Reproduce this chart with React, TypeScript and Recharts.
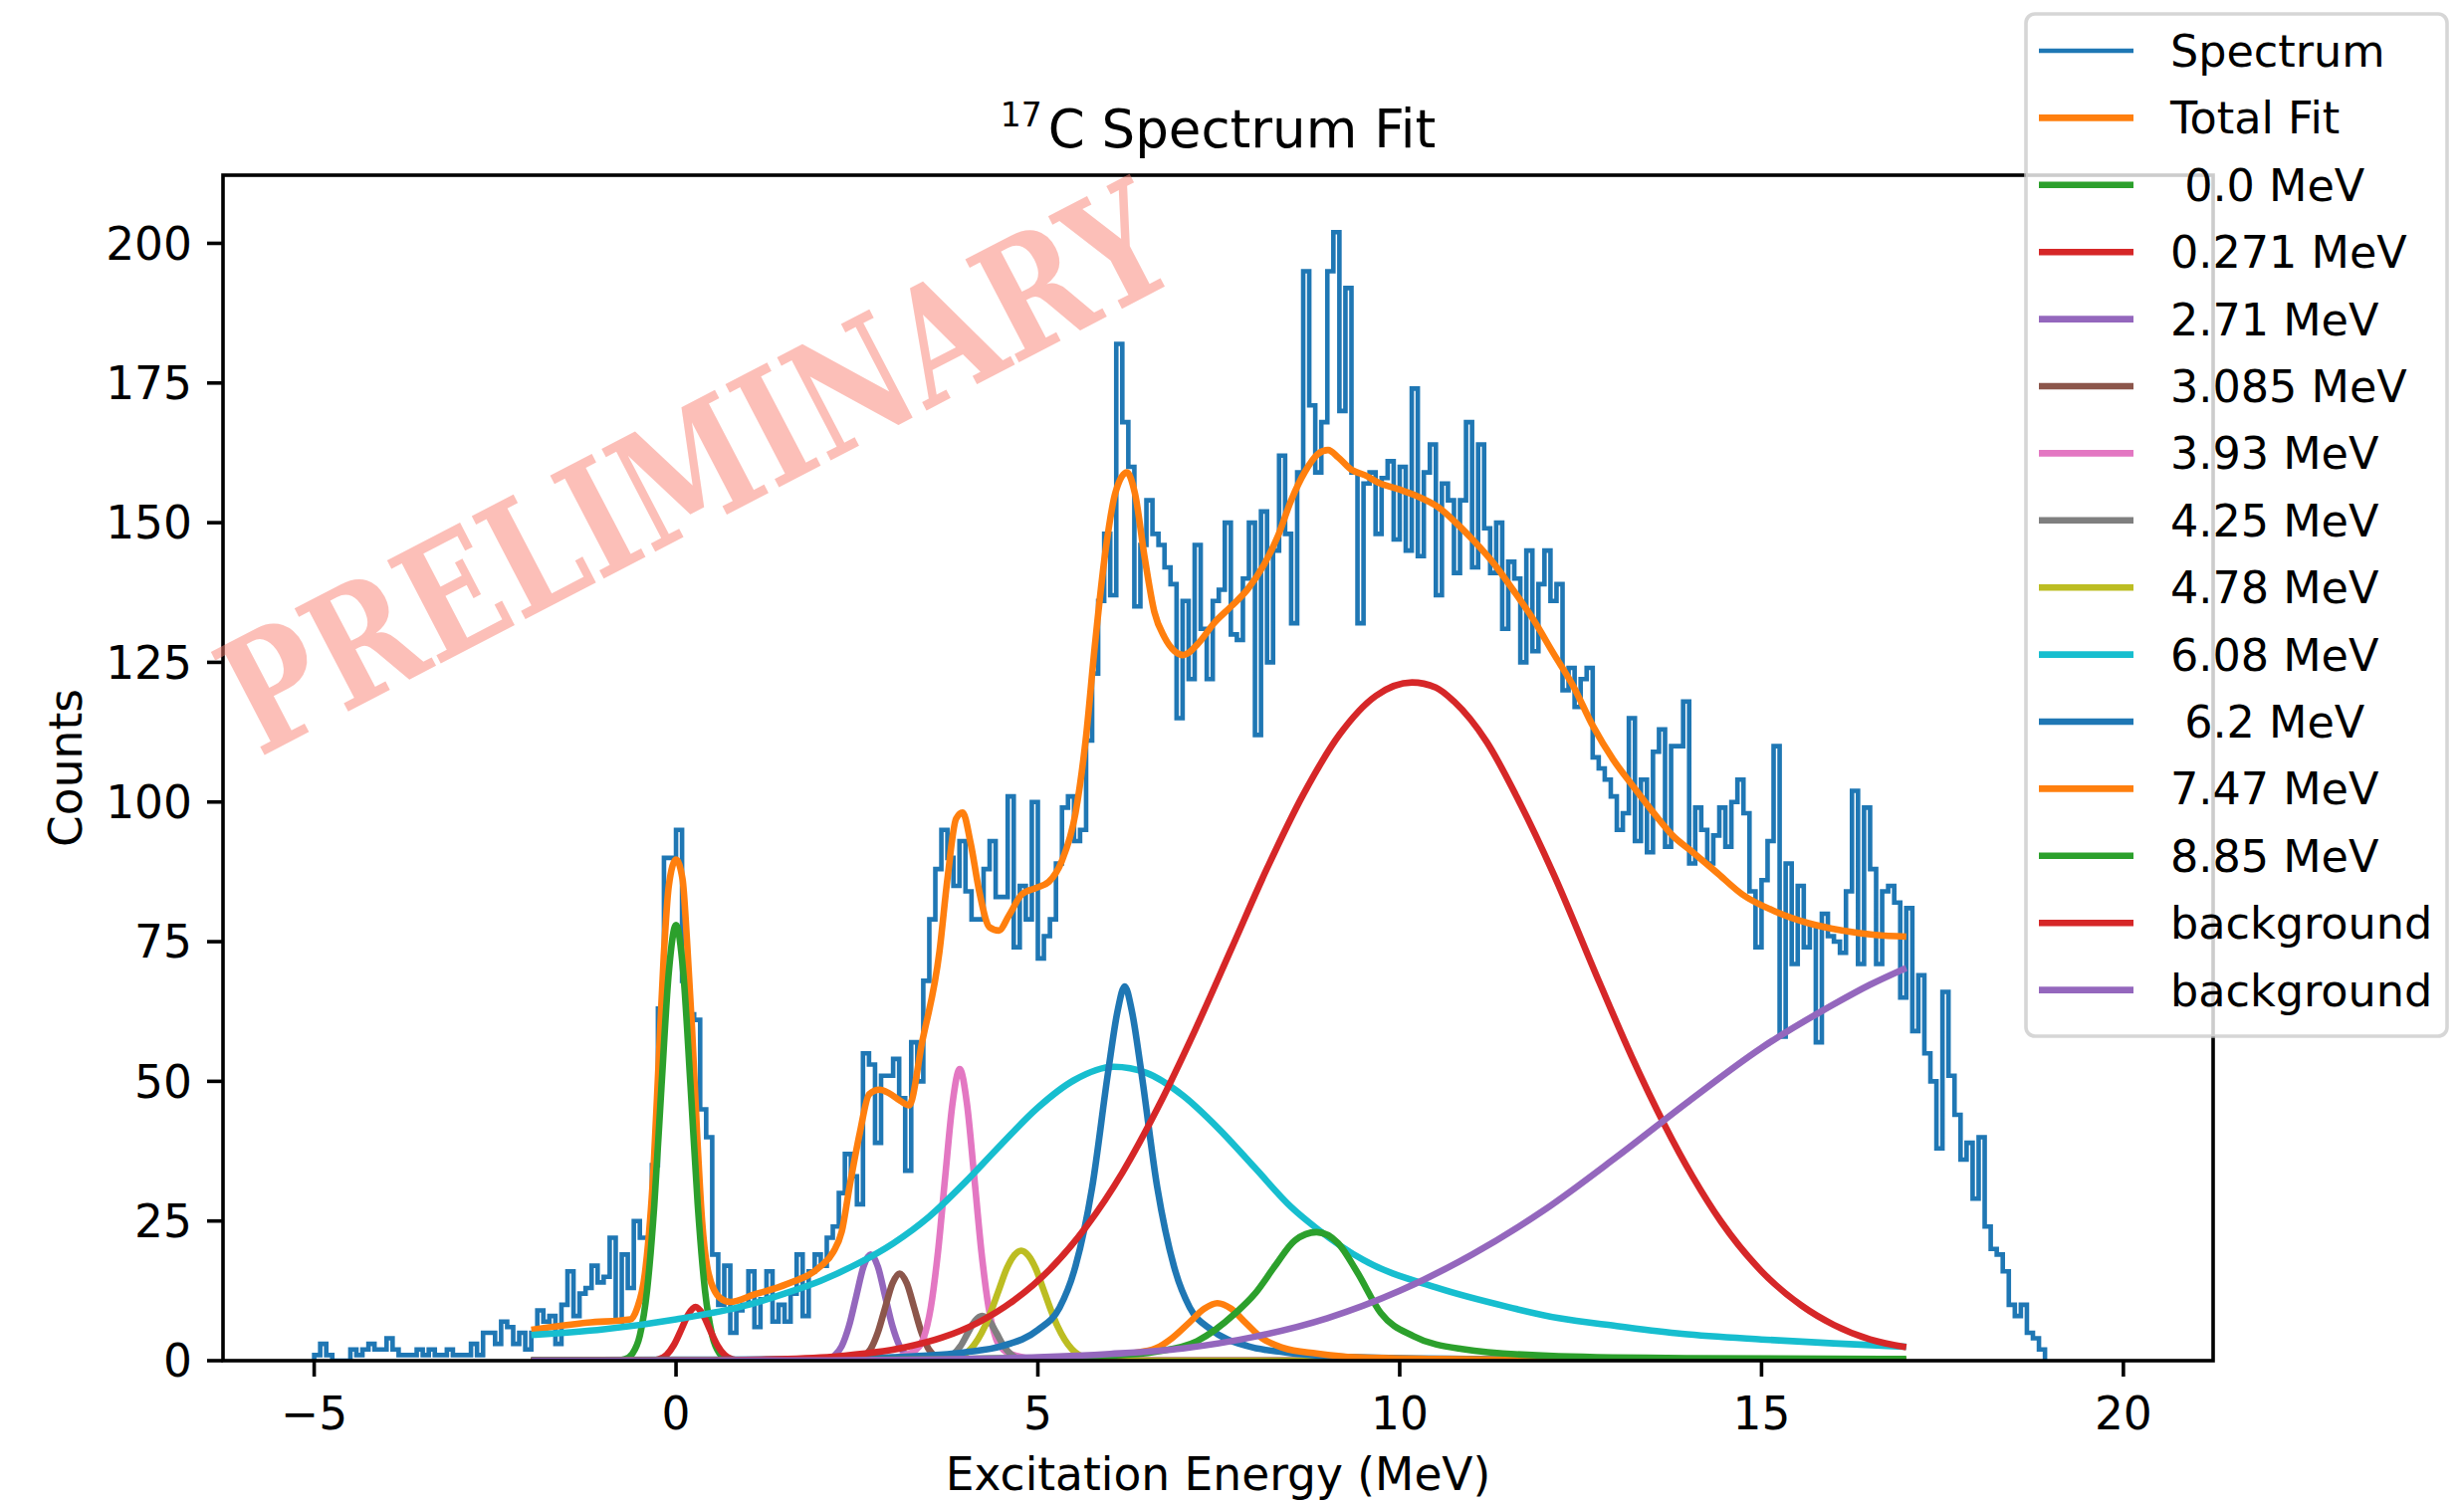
import React from 'react';
import { ComposedChart, Line, XAxis, YAxis } from 'recharts';

const W = 2475;
const H = 1510;
const PLOT = { left: 224, top: 176, right: 2223, bottom: 1367 };
const X_DOMAIN: [number, number] = [-6.26, 21.24];
const Y_DOMAIN: [number, number] = [0, 212.2];
const X_TICKS = [-5, 0, 5, 10, 15, 20];
const Y_TICKS = [0, 25, 50, 75, 100, 125, 150, 175, 200];

// histogram: bins start at -5 MeV, width 1/12 MeV
const HIST_START = -5;
const HIST_BIN = 1 / 12;
const spectrumCounts = [
  1, 3, 1, 0, 0, 0, 2, 1, 2, 3, 2, 2, 4, 2, 1, 1, 1, 2, 1, 2, 1, 1, 2, 1, 1, 1, 3, 1, 5, 5,
  3, 7, 6, 3, 5, 2, 5, 9, 7, 8, 3, 10, 16, 8, 12, 13, 17,
  14, 15, 22, 7, 19, 13, 25, 22, 22, 35, 63, 90, 90, 95, 68, 62, 61, 45, 40, 19,
  10, 17, 5, 9, 10, 16, 6, 11, 16, 7, 10, 7, 12, 19, 8, 16, 19, 17, 22, 24,
  30, 37, 33, 28, 55, 53, 39, 51,
  51, 54, 47, 34, 57, 50, 68, 79, 88, 95, 90, 85, 93, 84, 79, 79, 88, 93, 83, 83,
  101, 74, 85, 79, 100, 72, 76, 79, 89, 99, 101, 93, 95, 111, 123, 136, 148, 137, 182, 168,
  160, 135, 146, 154, 148, 146, 142, 139,
  115, 136, 122, 146, 131, 122, 136, 138, 150, 130, 129, 140, 150, 112, 152, 125, 145, 162,
  148, 132, 159, 195, 171, 159, 168, 195, 202, 170, 192, 159, 132, 157, 159, 148, 158, 161,
  147, 160, 145, 174, 144, 159, 164, 137, 157, 154, 141, 154,
  168, 142, 164, 149, 141, 150, 131, 143, 140, 125, 145, 127, 139, 145, 136, 139, 120, 124,
  117, 122, 124, 108, 106, 104, 101, 95, 98, 115, 93, 104, 91, 109, 113, 92, 110, 110, 118,
  89, 99, 95, 89, 94, 99, 92, 100, 104, 98,
  84, 74, 86, 93, 110, 58, 89, 71, 85, 74, 78, 57, 80, 76, 75, 73, 84, 102, 71, 99, 88, 71,
  84, 85, 82, 65, 81, 59, 69, 55, 50, 38, 66, 51, 44, 36, 39, 29, 40, 24, 20, 19, 16, 10, 8,
  10, 5, 4, 2,
];

type P = [number, number][];

const totalFit: P = [
  [-2, 5.5], [-1.22, 6.8], [-0.63, 7.4], [-0.54, 9.3], [-0.43, 15.6], [-0.31, 34.5], [-0.24, 53.4],
  [-0.17, 72.3], [-0.1, 85], [0, 89.7], [0.09, 86.2], [0.15, 75.5], [0.22, 59.7], [0.29, 40.8],
  [0.36, 25], [0.45, 15.6], [0.61, 11.2], [0.75, 10.5], [1.07, 11.8], [1.53, 13.7], [1.99, 16.8],
  [2.17, 19.4], [2.29, 23.1], [2.4, 31.3], [2.54, 40.8], [2.67, 47.7], [2.81, 48.5], [2.94, 47.9],
  [3.1, 46.5], [3.22, 45.7], [3.4, 57], [3.64, 73.2], [3.75, 86.2], [3.87, 97], [3.96, 98.1],
  [4.07, 92.7], [4.19, 84], [4.33, 77.6], [4.46, 77], [4.6, 79.7], [4.78, 83.5], [4.97, 84.6],
  [5.15, 85.7], [5.33, 89.4], [5.52, 98], [5.66, 111], [5.79, 128.3], [5.93, 144.5], [6.07, 155.3],
  [6.23, 159], [6.34, 155.3], [6.48, 143.4], [6.61, 134], [6.75, 129.5], [6.89, 127], [7.01, 126.3],
  [7.21, 128.3], [7.44, 132.1], [7.67, 135], [7.9, 138.1], [8.13, 142.6], [8.32, 147.7], [8.5, 154],
  [8.69, 159.1], [8.87, 162.3], [9.01, 163], [9.15, 161.7], [9.33, 159.5], [9.52, 158.5], [9.7, 157.2],
  [9.98, 156], [10.25, 154.7], [10.53, 152.8], [10.76, 150.2], [11.02, 146.8], [11.3, 142.7],
  [11.57, 137.9], [11.85, 132.6], [12.12, 126.7], [12.4, 120.7], [12.67, 113.6], [12.95, 107.6],
  [13.22, 102.9], [13.5, 98.2], [13.77, 94], [14.05, 91], [14.37, 87.5], [14.74, 83.4], [15.19, 80.4],
  [15.65, 78.3], [16.11, 77], [16.57, 76.2], [17, 75.9],
];

const peak00: P = [
  [-2, 0], [-1, 0], [-0.8, 0.05], [-0.7, 0.3], [-0.6, 1.3], [-0.5, 4.5], [-0.4, 12.6], [-0.3, 27.9],
  [-0.2, 49.3], [-0.1, 69.5], [0, 78], [0.1, 69.5], [0.2, 49.3], [0.3, 27.9], [0.4, 12.6], [0.5, 4.5],
  [0.6, 1.3], [0.7, 0.3], [0.8, 0.05], [1, 0], [17, 0],
];
const peak0271: P = [
  [-2, 0], [-0.45, 0], [-0.33, 0.07], [-0.23, 0.3], [-0.13, 1.05], [-0.03, 2.8], [0.07, 5.5],
  [0.17, 8.3], [0.27, 9.6], [0.37, 8.3], [0.47, 5.5], [0.57, 2.8], [0.67, 1.05], [0.77, 0.3],
  [0.87, 0.07], [1, 0], [17, 0],
];
const peak271: P = [
  [-2, 0], [1.9, 0], [2.09, 0.2], [2.19, 0.9], [2.29, 2.6], [2.39, 6.2], [2.49, 11.5], [2.59, 16.8],
  [2.69, 19], [2.79, 16.8], [2.89, 11.5], [2.99, 6.2], [3.09, 2.6], [3.19, 0.9], [3.29, 0.2], [3.5, 0], [17, 0],
];
const peak3085: P = [
  [-2, 0], [2.3, 0], [2.49, 0.2], [2.59, 0.7], [2.69, 2.1], [2.79, 5.1], [2.89, 9.5], [2.99, 13.8],
  [3.09, 15.6], [3.19, 13.8], [3.29, 9.5], [3.39, 5.1], [3.49, 2.1], [3.59, 0.7], [3.69, 0.2], [3.9, 0], [17, 0],
];
const peak393: P = [
  [-2, 0], [2.6, 0.05], [2.92, 0.3], [3.12, 0.8], [3.32, 2], [3.42, 4], [3.52, 9.5], [3.62, 19.5],
  [3.72, 33], [3.82, 46], [3.92, 52.2], [4.02, 46], [4.12, 33], [4.22, 19.5], [4.32, 9.5], [4.42, 4],
  [4.52, 2], [4.72, 0.8], [4.92, 0.3], [5.3, 0.05], [17, 0],
];
const peak425: P = [
  [-2, 0], [3.5, 0], [3.73, 0.35], [3.83, 1.1], [3.93, 2.6], [4.03, 4.9], [4.13, 7.1], [4.23, 8],
  [4.33, 7.1], [4.43, 4.9], [4.53, 2.6], [4.63, 1.1], [4.73, 0.35], [4.95, 0], [17, 0],
];
const peak478: P = [
  [-2, 0], [3.4, 0], [3.57, 0.03], [3.77, 0.2], [3.97, 1], [4.17, 3.8], [4.27, 6.2], [4.37, 9.4],
  [4.47, 13], [4.57, 16.5], [4.67, 18.8], [4.77, 19.7], [4.87, 18.8], [4.97, 16.5], [5.07, 13],
  [5.17, 9.4], [5.27, 6.2], [5.37, 3.8], [5.57, 1], [5.77, 0.2], [5.97, 0.03], [6.2, 0], [17, 0],
];
const peak608: P = [
  [-2, 4.6], [-1, 5.6], [0, 7.4], [1, 10], [1.5, 12], [2, 14.3], [2.5, 17.3], [3, 21], [3.5, 25.8],
  [4, 32], [4.5, 38.8], [5, 45.3], [5.5, 50.2], [6.05, 52.6], [6.5, 51.5], [7, 47.5], [7.5, 41.5],
  [8, 34.5], [8.5, 27.5], [8.85, 23.7], [9.5, 18], [10.5, 13.1], [11.5, 9.6], [12.2, 7.6], [13, 6.2],
  [13.9, 4.8], [15, 3.8], [16, 3.1], [17, 2.5],
];
const peak62: P = [
  [-2, 0.1], [0, 0.15], [2, 0.3], [3, 0.6], [4, 1.5], [4.5, 2.6], [5, 5.5], [5.3, 9.5], [5.5, 16],
  [5.75, 31], [5.97, 51.6], [6.1, 62.5], [6.2, 67], [6.3, 62.5], [6.43, 51.6], [6.65, 31], [6.9, 16],
  [7.1, 9.5], [7.4, 5.5], [7.9, 2.6], [8.4, 1.5], [9.4, 0.6], [11, 0.3], [14, 0.15], [17, 0.1],
];
const peak747: P = [
  [-2, 0], [3, 0.1], [5, 0.4], [6, 0.8], [6.3, 1.3], [6.63, 2.2], [6.85, 4], [7.09, 6.8], [7.3, 9.3],
  [7.48, 10.3], [7.67, 9.3], [7.87, 6.8], [8.1, 4], [8.39, 2.3], [8.85, 1.3], [9.4, 0.6], [10.5, 0.3],
  [12, 0.15], [17, 0.05],
];
const peak885: P = [
  [-2, 0.05], [2, 0.15], [4, 0.3], [6, 0.9], [6.63, 1.6], [7.2, 3.5], [7.73, 8.5], [8, 12], [8.28, 17],
  [8.55, 21.5], [8.85, 23], [9.15, 21], [9.41, 15.9], [9.74, 8.5], [10.19, 4.4], [10.86, 2.1],
  [12.2, 0.8], [14, 0.45], [17, 0.3],
];
const background1: P = [
  [-2, 0], [0.17, 0.04], [1.17, 0.19], [2.17, 0.72], [3.17, 2.4], [3.67, 4.1], [4.17, 6.8], [4.67, 10.8],
  [5.17, 16.4], [5.67, 24], [6.17, 33.7], [6.67, 45.6], [7.17, 59.1], [7.67, 73.6], [8.17, 88.2],
  [8.67, 101.4], [9.17, 112.1], [9.67, 119], [10.17, 121.4], [10.5, 120.5], [10.75, 118], [11.2, 110.8],
  [11.65, 100.1], [12.12, 87.3], [12.76, 67.7], [13.2, 54.6], [13.66, 42.2], [14.05, 32.9], [14.44, 24.9],
  [15, 16], [15.56, 9.8], [16, 6.4], [16.5, 3.8], [17, 2.4],
];
const background2: P = [
  [-2, 0], [2, 0.05], [4, 0.3], [5, 0.6], [6, 1.2], [7, 2.2], [8, 4.3], [9, 7.6], [10, 12.5],
  [11, 19], [12, 27], [13, 36.5], [14, 46.5], [15, 56], [16, 63.8], [16.5, 67.3], [17, 70.3],
];

const legendLabels = [
  'Spectrum', 'Total Fit', ' 0.0 MeV', '0.271 MeV', '2.71 MeV', '3.085 MeV', '3.93 MeV', '4.25 MeV',
  '4.78 MeV', '6.08 MeV', ' 6.2 MeV', '7.47 MeV', '8.85 MeV', 'background', 'background',
];
const seriesColors = [
  '#1f77b4', '#ff7f0e', '#2ca02c', '#d62728', '#9467bd', '#8c564b', '#e377c2', '#7f7f7f',
  '#bcbd22', '#17becf', '#1f77b4', '#ff7f0e', '#2ca02c', '#d62728', '#9467bd',
];
const fitSeries: P[] = [
  totalFit, peak00, peak0271, peak271, peak3085, peak393, peak425, peak478, peak608, peak62,
  peak747, peak885, background1, background2,
];

const FONT = '"DejaVu Sans", sans-serif';
const TICK_FS = 45.5;
const LEGEND_FS = 44.5;
const LW_FIT = 6.6;
const LW_SPEC = 4.6;
const SPINE = 3.6;
const TICK_LEN = 16;

const toRows = (p: P) => p.map(([x, y]) => ({ x, y }));

const spectrumRows = (() => {
  const n = spectrumCounts.length;
  const rows = [{ x: HIST_START, y: 0 }];
  spectrumCounts.forEach((c, i) => rows.push({ x: HIST_START + i * HIST_BIN, y: c }));
  rows.push({ x: HIST_START + n * HIST_BIN, y: spectrumCounts[n - 1] });
  rows.push({ x: HIST_START + n * HIST_BIN, y: 0 });
  return rows;
})();

const fmt = (v: number) => (v < 0 ? '\u2212' + Math.abs(v) : String(v));

export default function App() {
  const legendX = 2035;
  const legendY = 14;
  const legendW = 423;
  const legendH = 1027;
  const rowY = (k: number) => 51 + 67.4 * k;
  return (
    <div style={{ position: 'absolute', left: 0, top: 0, width: W, height: H, background: '#fff' }}>
      <ComposedChart
        width={W}
        height={H}
        margin={{ top: PLOT.top, right: W - PLOT.right, bottom: H - PLOT.bottom - 60, left: PLOT.left - 100 }}
      >
        <XAxis
          type="number"
          dataKey="x"
          domain={X_DOMAIN}
          ticks={X_TICKS}
          allowDataOverflow
          height={60}
          axisLine={false}
          tickLine={{ stroke: '#000', strokeWidth: SPINE }}
          tickSize={TICK_LEN}
          tickMargin={21}
          tickFormatter={fmt}
          tick={{ fontSize: TICK_FS, fontFamily: FONT, fill: '#000' }}
          interval={0}
        />
        <YAxis
          type="number"
          domain={Y_DOMAIN}
          ticks={Y_TICKS}
          allowDataOverflow
          width={100}
          axisLine={false}
          tickLine={{ stroke: '#000', strokeWidth: SPINE }}
          tickSize={TICK_LEN}
          tickMargin={15}
          tickFormatter={fmt}
          tick={{ fontSize: TICK_FS, fontFamily: FONT, fill: '#000' }}
          interval={0}
        />
        <Line
          data={spectrumRows}
          dataKey="y"
          type="stepAfter"
          stroke={seriesColors[0]}
          strokeWidth={LW_SPEC}
          dot={false}
          activeDot={false}
          isAnimationActive={false}
          strokeLinejoin="miter"
        />
        {fitSeries.map((s, i) => (
          <Line
            key={i}
            data={toRows(s)}
            dataKey="y"
            type="monotone"
            stroke={seriesColors[i + 1]}
            strokeWidth={LW_FIT}
            dot={false}
            activeDot={false}
            isAnimationActive={false}
          />
        ))}
      </ComposedChart>
      <svg
        width={W}
        height={H}
        style={{ position: 'absolute', left: 0, top: 0, pointerEvents: 'none' }}
      >
        <rect
          x={PLOT.left}
          y={PLOT.top}
          width={PLOT.right - PLOT.left}
          height={PLOT.bottom - PLOT.top}
          fill="none"
          stroke="#000"
          strokeWidth={SPINE}
        />
        <text x={1223.5} y={148} textAnchor="middle" fontFamily={FONT} fontSize={53} fill="#000">
          <tspan fontSize={33} dy={-21}>17</tspan>
          <tspan dx={6} dy={21}>C Spectrum Fit</tspan>
        </text>
        <text x={1223.5} y={1497} textAnchor="middle" fontFamily={FONT} fontSize={TICK_FS} fill="#000">
          Excitation Energy (MeV)
        </text>
        <text
          transform="translate(82,771.5) rotate(-90)"
          textAnchor="middle"
          fontFamily={FONT}
          fontSize={TICK_FS}
          fill="#000"
        >
          Counts
        </text>
        <text
          transform="translate(724,520) rotate(-27.5)"
          textAnchor="middle"
          fontFamily='"DejaVu Serif", serif'
          fontWeight="bold"
          fontSize={160}
          fill="rgba(250,128,114,0.5)"
          textLength={1045}
          lengthAdjust="spacingAndGlyphs"
        >
          PRELIMINARY
        </text>
        <rect
          x={legendX}
          y={legendY}
          width={legendW}
          height={legendH}
          rx={9}
          ry={9}
          fill="rgba(255,255,255,0.8)"
          stroke="rgba(204,204,204,0.8)"
          strokeWidth={SPINE}
        />
        {legendLabels.map((lab, k) => (
          <g key={k}>
            <line
              x1={2048}
              x2={2143}
              y1={rowY(k)}
              y2={rowY(k)}
              stroke={seriesColors[k]}
              strokeWidth={k === 0 ? LW_SPEC : LW_FIT}
            />
            <text
              x={2180}
              y={rowY(k) + 16}
              fontFamily={FONT}
              fontSize={LEGEND_FS}
              fill="#000"
              style={{ whiteSpace: 'pre' }}
            >
              {lab}
            </text>
          </g>
        ))}
      </svg>
    </div>
  );
}
